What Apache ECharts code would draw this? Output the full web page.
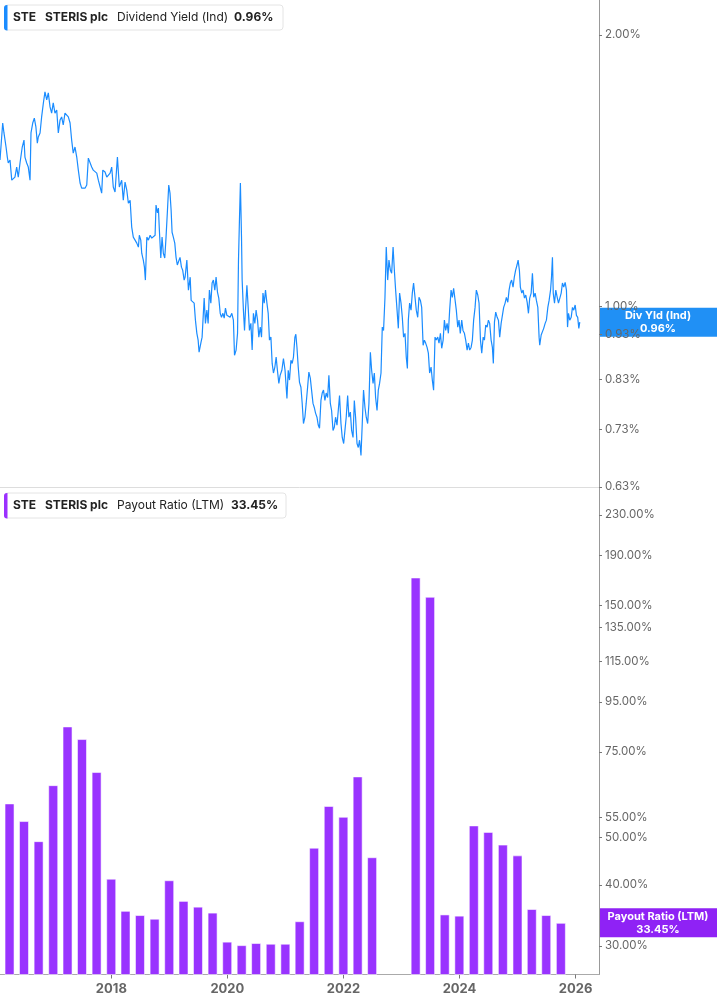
<!DOCTYPE html>
<html>
<head>
<meta charset="utf-8">
<script src="https://cdn.jsdelivr.net/npm/echarts@6.0.0/dist/echarts.min.js"></script>
<style>
  html, body { margin: 0; padding: 0; background: #fff; }
  #chart { width: 717px; height: 1005px; }
</style>
</head>
<body>
<div id="chart"></div>
<script>
// dividend yield (%)
const yieldDates = [
  '2016-01-31','2016-02-17','2016-02-25','2016-03-09','2016-03-17','2016-03-23','2016-04-03','2016-04-14','2016-04-24','2016-05-04','2016-05-15','2016-05-25','2016-06-05','2016-06-19','2016-06-30','2016-07-06','2016-07-17','2016-07-27','2016-08-07','2016-08-13','2016-08-24','2016-09-03','2016-09-13','2016-09-22','2016-09-28','2016-10-09','2016-10-19','2016-10-30','2016-11-09','2016-11-20','2016-11-30','2016-12-11','2016-12-21','2016-12-31',
  '2017-01-11','2017-01-22','2017-02-01','2017-02-12','2017-02-22','2017-03-04','2017-03-15','2017-03-26','2017-04-05','2017-04-16','2017-04-26','2017-05-06','2017-05-17','2017-05-28','2017-06-07','2017-06-18','2017-06-28','2017-07-08','2017-07-19','2017-07-30','2017-08-09','2017-08-20','2017-08-30','2017-09-09','2017-09-20','2017-10-01','2017-10-11','2017-10-22','2017-11-01','2017-11-08','2017-11-22','2017-12-03','2017-12-24',
  '2018-01-03','2018-01-13','2018-01-24','2018-02-08','2018-02-20','2018-03-07','2018-03-17','2018-03-28','2018-04-08','2018-04-18','2018-04-29','2018-05-09','2018-05-19','2018-05-30','2018-06-10','2018-06-20','2018-06-26','2018-07-05','2018-07-11','2018-07-21','2018-07-28','2018-08-03','2018-08-12','2018-08-22','2018-09-02','2018-09-12','2018-09-22','2018-10-03','2018-10-09','2018-10-18','2018-10-24','2018-10-30','2018-11-08','2018-11-16','2018-11-24','2018-12-03','2018-12-11','2018-12-20','2018-12-28',
  '2019-01-05','2019-01-12','2019-01-18','2019-01-26','2019-02-04','2019-02-12','2019-02-20','2019-03-01','2019-03-09','2019-03-18','2019-03-26','2019-04-04','2019-04-10','2019-04-21','2019-05-01','2019-05-12','2019-05-18','2019-05-29','2019-06-06','2019-06-14','2019-06-23','2019-07-01','2019-07-07','2019-07-18','2019-07-26','2019-08-03','2019-08-08','2019-08-16','2019-08-25','2019-09-02','2019-09-10','2019-09-19','2019-09-27','2019-10-05','2019-10-14','2019-10-22','2019-10-31','2019-11-08','2019-11-17','2019-11-25','2019-12-04','2019-12-12','2019-12-20','2019-12-29',
  '2020-01-08','2020-01-18','2020-01-29','2020-02-08','2020-02-15','2020-02-25','2020-03-05','2020-03-11','2020-03-17','2020-03-23','2020-03-30','2020-04-03','2020-04-11','2020-04-18','2020-04-24','2020-05-03','2020-05-11','2020-05-19','2020-05-28','2020-06-05','2020-06-13','2020-06-22','2020-06-30','2020-07-09','2020-07-17','2020-07-26','2020-08-03','2020-08-12','2020-08-20','2020-08-28','2020-09-06','2020-09-14','2020-09-22','2020-10-01','2020-10-09','2020-10-17','2020-10-26','2020-11-03','2020-11-11','2020-11-20','2020-11-28','2020-12-09','2020-12-19','2020-12-29',
  '2021-01-10','2021-01-18','2021-01-26','2021-02-04','2021-02-12','2021-02-20','2021-03-01','2021-03-07','2021-03-14','2021-03-22','2021-03-30','2021-04-08','2021-04-16','2021-04-24','2021-05-03','2021-05-11','2021-05-20','2021-05-28','2021-06-06','2021-06-14','2021-06-23','2021-07-01','2021-07-09','2021-07-18','2021-07-26','2021-08-03','2021-08-12','2021-08-20','2021-08-28','2021-09-06','2021-09-14','2021-09-23','2021-10-01','2021-10-10','2021-10-18','2021-10-27','2021-11-04','2021-11-12','2021-11-21','2021-11-29','2021-12-07','2021-12-16','2021-12-24',
  '2022-01-02','2022-01-10','2022-01-18','2022-01-27','2022-02-04','2022-02-13','2022-02-21','2022-03-02','2022-03-10','2022-03-18','2022-03-27','2022-04-04','2022-04-12','2022-04-21','2022-04-29','2022-05-07','2022-05-16','2022-05-24','2022-06-02','2022-06-10','2022-06-19','2022-06-27','2022-07-06','2022-07-14','2022-07-22','2022-07-31','2022-08-08','2022-08-16','2022-08-25','2022-09-02','2022-09-10','2022-09-19','2022-09-27','2022-10-06','2022-10-14','2022-10-23','2022-10-31','2022-11-09','2022-11-17','2022-11-25','2022-12-04','2022-12-12','2022-12-20','2022-12-29',
  '2023-01-06','2023-01-14','2023-01-23','2023-01-31','2023-02-07','2023-02-13','2023-02-21','2023-03-02','2023-03-10','2023-03-18','2023-03-27','2023-04-04','2023-04-13','2023-04-21','2023-04-30','2023-05-08','2023-05-17','2023-05-25','2023-06-02','2023-06-11','2023-06-19','2023-06-27','2023-07-06','2023-07-14','2023-07-22','2023-07-31','2023-08-08','2023-08-17','2023-08-25','2023-09-03','2023-09-11','2023-09-20','2023-09-28','2023-10-06','2023-10-15','2023-10-23','2023-10-31','2023-11-09','2023-11-17','2023-11-25','2023-12-04','2023-12-12','2023-12-21','2023-12-29',
  '2024-01-06','2024-01-15','2024-01-23','2024-02-01','2024-02-09','2024-02-18','2024-02-26','2024-03-05','2024-03-14','2024-03-22','2024-03-30','2024-04-08','2024-04-16','2024-04-25','2024-05-03','2024-05-12','2024-05-20','2024-05-29','2024-06-06','2024-06-14','2024-06-23','2024-07-01','2024-07-09','2024-07-18','2024-07-26','2024-08-01','2024-08-08','2024-08-16','2024-08-25','2024-09-02','2024-09-10','2024-09-19','2024-09-27','2024-10-05','2024-10-14','2024-10-22','2024-10-31','2024-11-08','2024-11-16','2024-11-24','2024-12-03','2024-12-11','2024-12-19','2024-12-28',
  '2025-01-04','2025-01-12','2025-01-18','2025-01-27','2025-02-04','2025-02-13','2025-02-21','2025-03-02','2025-03-10','2025-03-18','2025-03-27','2025-04-04','2025-04-12','2025-04-21','2025-04-29','2025-05-08','2025-05-16','2025-05-20','2025-05-29','2025-06-06','2025-06-14','2025-06-23','2025-07-01','2025-07-10','2025-07-18','2025-07-27','2025-08-02','2025-08-08','2025-08-13','2025-08-21','2025-08-29','2025-09-07','2025-09-15','2025-09-23','2025-10-02','2025-10-10','2025-10-18','2025-10-27','2025-11-04','2025-11-11','2025-11-17','2025-11-25','2025-12-04','2025-12-12','2025-12-20','2025-12-29',
  '2026-01-06','2026-01-14','2026-01-21','2026-01-27'
];
const yieldValues = [
  1.453,1.597,1.557,1.502,1.464,1.442,1.453,1.380,1.373,1.391,1.427,1.391,1.442,1.502,1.529,1.464,1.442,1.427,1.380,1.557,1.597,1.617,1.581,1.517,1.541,1.557,1.622,1.681,1.729,1.694,1.725,1.664,1.638,1.681,
  1.638,1.651,1.557,1.609,1.622,1.589,1.638,1.642,1.622,1.597,1.529,1.479,1.502,1.464,1.416,1.370,1.352,1.356,1.352,1.363,1.460,1.453,1.427,1.416,1.423,1.405,1.380,1.373,1.335,1.416,1.409,1.391,1.405,
  1.427,1.356,1.339,1.464,1.356,1.380,1.311,1.373,1.345,1.301,1.311,1.224,1.193,1.184,1.175,1.163,1.199,1.184,1.145,1.125,1.105,1.069,1.193,1.184,1.199,1.190,1.193,1.199,1.295,1.269,1.285,1.215,1.131,1.193,1.145,1.131,1.193,1.278,1.363,
  1.335,1.278,1.208,1.193,1.175,1.133,1.111,1.116,1.133,1.105,1.096,1.069,1.077,1.125,1.042,1.077,1.015,1.010,1.008,0.965,0.933,0.917,0.889,0.910,0.924,0.922,1.021,0.957,0.990,0.957,1.042,1.008,1.061,1.069,1.042,1.077,1.036,1.021,0.982,0.972,0.982,0.970,0.995,0.977,
  0.982,0.972,0.982,0.965,0.882,0.894,0.933,1.125,1.246,1.370,1.193,1.069,0.990,0.940,0.990,1.055,0.997,0.940,0.957,0.894,0.982,0.957,0.990,0.965,0.924,0.948,0.924,1.034,1.008,1.042,1.008,0.982,0.917,0.924,0.864,0.843,0.856,0.878,0.849,0.821,0.838,0.849,0.875,0.849,
  0.790,0.849,0.828,0.871,0.864,0.878,0.924,0.931,0.900,0.856,0.823,0.813,0.780,0.741,0.753,0.780,0.813,0.845,0.832,0.807,0.780,0.772,0.761,0.753,0.738,0.732,0.786,0.801,0.807,0.786,0.801,0.792,0.838,0.780,0.766,0.728,0.734,0.753,0.738,0.766,0.796,0.741,0.715,
  0.704,0.728,0.753,0.796,0.753,0.763,0.728,0.715,0.786,0.753,0.704,0.697,0.710,0.683,0.741,0.807,0.772,0.753,0.741,0.780,0.889,0.849,0.821,0.843,0.792,0.766,0.807,0.821,0.843,0.948,0.940,1.023,1.163,1.069,1.125,1.096,1.088,1.163,1.096,1.042,0.990,0.945,1.034,1.008,
  0.972,0.924,0.933,0.878,0.853,0.965,1.008,0.990,1.034,1.061,1.023,0.990,0.972,1.023,1.015,0.997,0.905,0.917,0.910,0.900,0.887,0.843,0.856,0.828,0.807,0.924,0.917,0.924,0.910,0.933,0.898,0.917,0.965,0.940,0.957,0.933,0.990,1.042,1.023,1.047,1.050,0.990,0.948,0.965,
  0.933,0.965,0.940,0.933,0.917,0.894,0.910,0.894,0.900,0.917,0.965,0.997,1.042,1.029,1.008,0.917,0.887,0.924,0.917,0.953,0.948,0.965,0.957,0.917,0.900,0.864,0.960,0.985,0.972,0.965,0.924,0.957,0.960,0.997,1.008,1.023,1.010,1.042,1.061,1.069,1.050,1.077,1.096,1.111,
  1.125,1.096,1.050,1.034,1.042,1.021,1.029,1.010,0.982,1.021,1.034,1.088,1.023,1.034,1.015,0.997,0.924,0.905,0.929,0.933,0.945,0.957,0.965,0.997,1.015,1.042,1.077,1.133,1.034,1.008,1.042,1.023,1.008,1.010,1.034,1.061,1.050,1.063,1.042,0.948,0.982,0.965,0.972,0.997,0.990,1.003,
  0.977,0.972,0.945,0.960
];

// payout ratio (LTM, %) at quarter ends; null = not shown
const payoutDates = [
  '2015-12-31','2016-03-31','2016-06-30','2016-09-30','2016-12-31','2017-03-31','2017-06-30','2017-09-30','2017-12-31',
  '2018-03-31','2018-06-30','2018-09-30','2018-12-31','2019-03-31','2019-06-30','2019-09-30','2019-12-31',
  '2020-03-31','2020-06-30','2020-09-30','2020-12-31','2021-03-31','2021-06-30','2021-09-30','2021-12-31',
  '2022-03-31','2022-06-30','2022-09-30','2022-12-31','2023-03-31','2023-06-30','2023-09-30','2023-12-31',
  '2024-03-31','2024-06-30','2024-09-30','2024-12-31','2025-03-31','2025-06-30','2025-09-30'
];
const payoutValues = [
  60.7, 58.8, 54.1, 49.2, 64.1, 84.6, 79.7, 68.2, 41.2,
  35.4, 34.7, 34.1, 40.9, 37.1, 36.1, 35.1, 30.6,
  30.1, 30.4, 30.3, 30.3, 33.7, 47.7, 58.1, 55.2,
  66.8, 45.6, null, null, 171.0, 156.1, 34.8, 34.6,
  53.0, 51.4, 48.4, 46.0, 35.7, 34.7, 33.45
];

const yieldTicks = [0.63, 0.73, 0.83, 0.93, 1.00, 2.00];
const payoutTicks = [30, 40, 50, 55, 75, 95, 115, 135, 150, 190, 230];
const yearTicks = [2018, 2020, 2022, 2024, 2026];
const lastYield = 0.96;
const lastPayout = 33.45;

const FONT = 'Inter, Roboto, "Noto Sans", sans-serif';
const BLUE = '#1a8cff';
const PURPLE = '#9933ff';

const yearStamps = yearTicks.map(y => new Date(y, 0, 1).getTime());
const xMin = new Date(2016, 0, 31).getTime();
const xMax = new Date(2026, 4, 28).getTime();

const chart = echarts.init(document.getElementById('chart'));

const pct = v => Number(v).toFixed(2) + '%';

chart.setOption({
  animation: false,
  textStyle: { fontFamily: FONT },
  grid: [
    { left: 0, right: 118, top: 0, height: 487 },
    { left: 0, right: 118, top: 488, height: 486.5 }
  ],
  xAxis: [
    {
      gridIndex: 0, type: 'time', min: xMin, max: xMax,
      axisLine: { show: true, onZero: false, lineStyle: { color: '#dddddd' } },
      axisTick: { show: false }, axisLabel: { show: false }, splitLine: { show: false }
    },
    {
      gridIndex: 1, type: 'time', min: xMin, max: xMax,
      axisLine: { show: true, onZero: false, lineStyle: { color: '#aaaaaa' } },
      axisTick: { show: false }, axisLabel: { show: false }, splitLine: { show: false }
    },
    {
      // year ticks/labels for the lower panel, same time range in ms
      gridIndex: 1, type: 'value', min: xMin, max: xMax, position: 'bottom',
      axisLine: { show: false, onZero: false },
      axisTick: { show: true, length: 4, customValues: yearStamps, lineStyle: { color: '#777' } },
      axisLabel: {
        customValues: yearStamps,
        formatter: v => String(new Date(v).getFullYear()),
        color: '#666', fontWeight: 'bold', fontSize: 13, margin: 8, fontFamily: FONT
      },
      splitLine: { show: false }
    }
  ],
  yAxis: [
    {
      gridIndex: 0, type: 'log', position: 'right', min: 0.63, max: 2.187,
      axisLine: { show: true, lineStyle: { color: '#999' } },
      axisTick: { show: true, length: 3, customValues: yieldTicks, lineStyle: { color: '#777' } },
      axisLabel: { customValues: yieldTicks, formatter: pct, color: '#666', fontSize: 11.5, margin: 6, fontFamily: FONT },
      splitLine: { show: false }
    },
    {
      gridIndex: 1, type: 'log', position: 'right', min: 26.2, max: 261,
      axisLine: { show: true, lineStyle: { color: '#999' } },
      axisTick: { show: true, length: 3, customValues: payoutTicks, lineStyle: { color: '#777' } },
      axisLabel: { customValues: payoutTicks, formatter: pct, color: '#666', fontSize: 11.5, margin: 6, fontFamily: FONT },
      splitLine: { show: false }
    }
  ],
  series: [
    {
      name: 'Dividend Yield (Ind)', type: 'line', xAxisIndex: 0, yAxisIndex: 0,
      showSymbol: false, lineStyle: { color: BLUE, width: 1.2 },
      data: yieldDates.map((d, i) => [d, yieldValues[i]])
    },
    {
      name: 'Payout Ratio (LTM)', type: 'bar', xAxisIndex: 1, yAxisIndex: 1,
      barWidth: 10,
      itemStyle: { color: PURPLE, borderColor: 'rgba(255,255,255,0.55)', borderWidth: 1 },
      data: payoutDates.map((d, i) => [d, payoutValues[i]])
    }
  ]
});

// the bar axis pads its range to fit the bars; pull it back so the
// bars line up with the year ticks (and with the line panel above)
let barMin = xMin, barMax = xMax;
for (let k = 0; k < 4; k++) {
  const t0 = chart.convertToPixel({ xAxisIndex: 2 }, xMin);
  const t1 = chart.convertToPixel({ xAxisIndex: 2 }, xMax);
  const p0 = chart.convertToPixel({ xAxisIndex: 1 }, xMin);
  const p1 = chart.convertToPixel({ xAxisIndex: 1 }, xMax);
  if (Math.abs(p0 - t0) < 0.05 && Math.abs(p1 - t1) < 0.05) break;
  const perMs = (p1 - p0) / (xMax - xMin);
  barMin += (p0 - t0) / perMs;
  barMax -= (t1 - p1) / perMs;
  chart.setOption({ xAxis: [{}, { min: barMin, max: barMax }, {}] });
}

// legend boxes top-left of each panel + value tags on the right axis
function legendBox(top, color, fieldName, valueText, width) {
  const cy = top + 12.5;
  const txt = (x, s, bold) => ({
    type: 'text', x: x, y: cy, z: 102,
    style: { text: s, fill: '#222', fontSize: 12, fontWeight: bold ? 'bold' : 'normal', fontFamily: FONT, verticalAlign: 'middle' }
  });
  return [
    { type: 'rect', z: 100, shape: { x: 4.5, y: top, width: width, height: 25, r: 3 }, style: { fill: '#fff', stroke: '#e4e4e4', lineWidth: 1 } },
    { type: 'rect', z: 101, shape: { x: 4, y: top, width: 3.5, height: 25.5, r: [3, 0, 0, 3] }, style: { fill: color } },
    txt(13, 'STE', true),
    txt(45, 'STERIS plc', true),
    txt(117, fieldName, false),
    txt(valueText.length > 5 ? 231 : 234, valueText, true)
  ];
}

// tag box sits under the axis labels (as in the source, a nearby tick label shows through)
function valueTag(py, color, line1, line2) {
  return [
    { type: 'rect', z: -1, shape: { x: 599, y: py - 14.5, width: 118, height: 29 }, style: { fill: color } },
    {
      type: 'text', z: 111, x: 658, y: py,
      style: { text: line1 + '\n' + line2, fill: '#fff', fontSize: 11, fontWeight: 'bold', fontFamily: FONT, align: 'center', verticalAlign: 'middle', lineHeight: 13 }
    }
  ];
}

const yTagY = chart.convertToPixel({ yAxisIndex: 0 }, lastYield);
const pTagY = chart.convertToPixel({ yAxisIndex: 1 }, lastPayout);

chart.setOption({
  graphic: [].concat(
    legendBox(5, BLUE, 'Dividend Yield (Ind)', pct(lastYield), 278.5),
    legendBox(493, '#9b30ff', 'Payout Ratio (LTM)', pct(lastPayout), 281.5),
    valueTag(yTagY, '#2090f5', 'Div Yld (Ind)', pct(lastYield)),
    valueTag(pTagY, '#8f22f5', 'Payout Ratio (LTM)', pct(lastPayout))
  )
});
</script>
</body>
</html>
